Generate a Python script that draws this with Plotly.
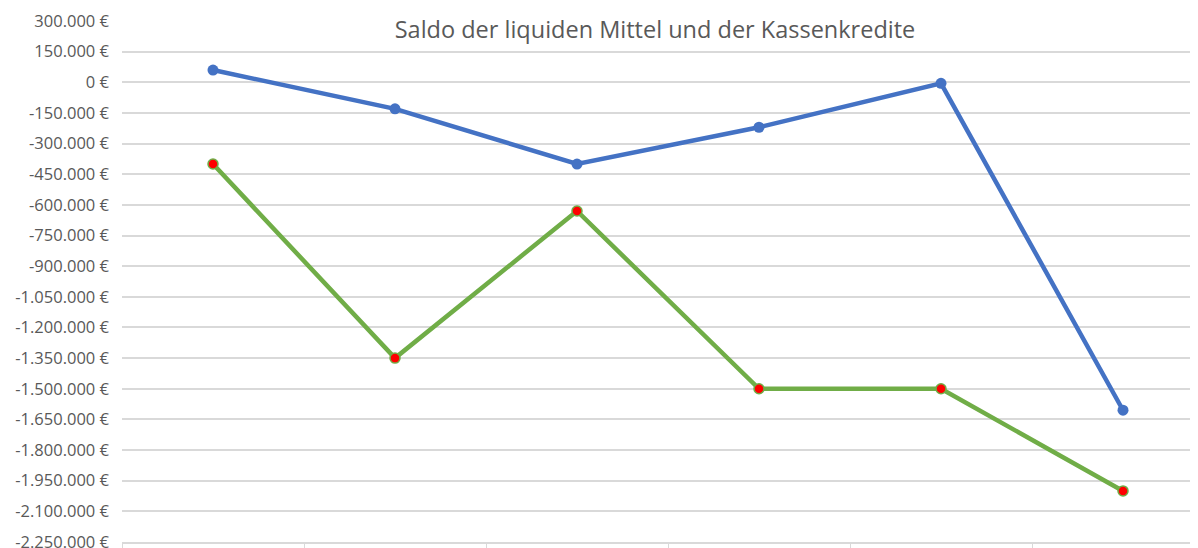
import plotly.graph_objects as go

categories = ["1", "2", "3", "4", "5", "6"]
saldo_liquide = [60000, -130000, -400000, -220000, -5000, -1605000]
saldo_kassenkredite = [-400000, -1350000, -630000, -1500000, -1500000, -2000000]
tick_values = list(range(-2250000, 300001, 150000))


def fmt(v):
    s = f"{abs(v):,}".replace(",", ".")
    return ("-" if v < 0 else "") + s + " €"


tick_text = [fmt(v) for v in tick_values]

fig = go.Figure()
fig.add_trace(go.Scatter(
    x=categories, y=saldo_liquide, mode="lines+markers", name="Liquide Mittel",
    line=dict(color="#4472C4", width=4.5),
    marker=dict(size=11, color="#4472C4"),
))
fig.add_trace(go.Scatter(
    x=categories, y=saldo_kassenkredite, mode="lines+markers", name="Kassenkredite",
    line=dict(color="#70AD47", width=4.5),
    marker=dict(size=10, color="#FF0000", line=dict(color="#70AD47", width=1.5)),
))

fig.update_layout(
    width=1198, height=548,
    margin=dict(l=114, r=0, t=13, b=14),
    paper_bgcolor="white", plot_bgcolor="white",
    showlegend=False,
    font=dict(family="Open Sans, Liberation Sans, sans-serif", color="#595959"),
    title=dict(text="Saldo der liquiden Mittel und der Kassenkredite",
               x=647 / 1198, xanchor="center", y=1 - 22 / 548, yanchor="middle",
               font=dict(size=23.5, color="#595959")),
    xaxis=dict(type="category", range=[-0.5, 5.456], showticklabels=False,
               ticks="outside", tickson="boundaries", ticklen=8, tickcolor="#d9d9d9",
               showgrid=False, showline=True, linecolor="#d9d9d9", linewidth=1.5,
               zeroline=False, automargin=False),
    yaxis=dict(range=[-2250000, 300000], tickvals=tick_values, ticktext=tick_text,
               showgrid=True, gridcolor="#d9d9d9", gridwidth=1.5, zeroline=False,
               ticks="", ticklabelstandoff=12, automargin=False,
               tickfont=dict(size=16.5, color="#595959")),
)

fig.write_html("out.html")
